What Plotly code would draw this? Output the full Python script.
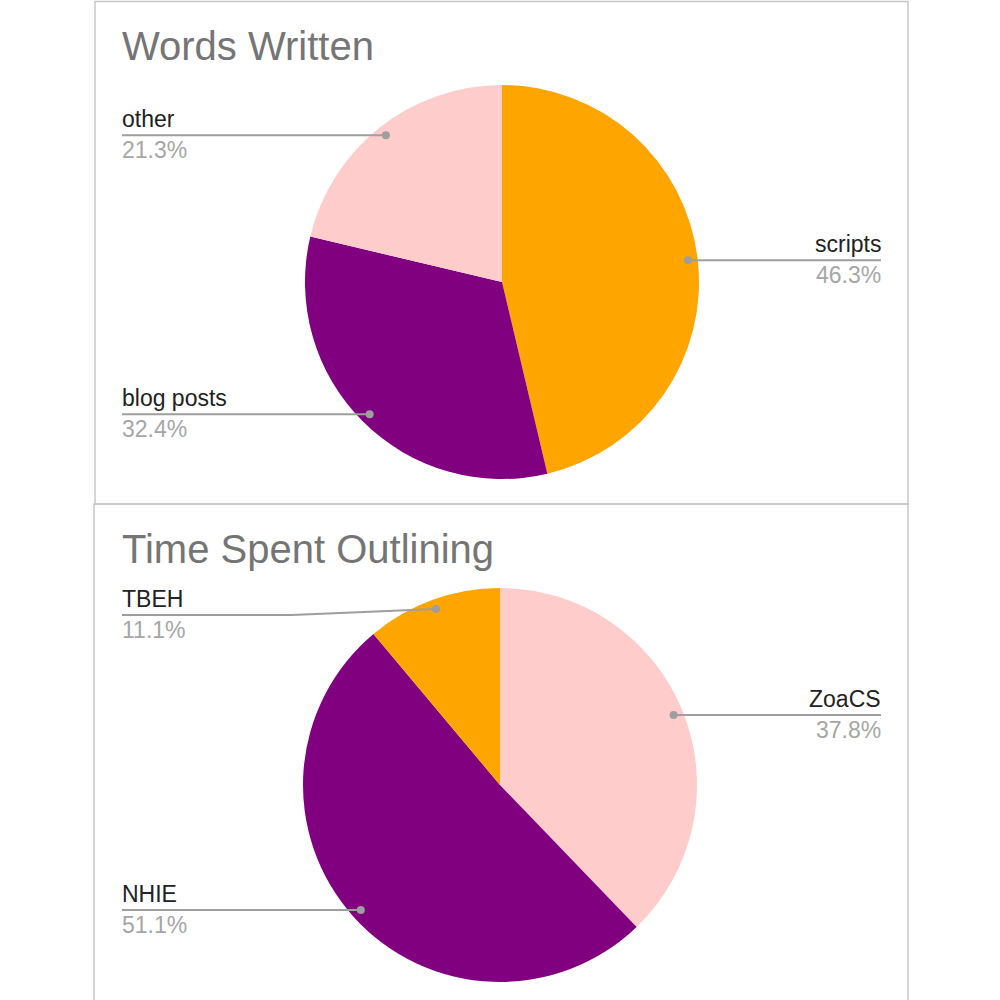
import math
import plotly.graph_objects as go

# chart data
words_labels = ["scripts", "blog posts", "other"]
words_values = [46.3, 32.4, 21.3]
words_colors = ["#ffa500", "#800080", "#ffcccc"]

outline_labels = ["ZoaCS", "NHIE", "TBEH"]
outline_values = [37.8, 51.1, 11.1]
outline_colors = ["#ffcccc", "#800080", "#ffa500"]

titles = ["Words Written", "Time Spent Outlining"]

# page pixel -> paper coords (body margin removed below)
W = H = 1000
OFF = 0


def px(x):
    return (x - OFF) / W


def py(y):
    return 1 - (y - OFF) / H


FONT = "Liberation Sans, Arial, sans-serif"
LINE_COL = "#9e9e9e"

panels = [
    dict(labels=words_labels, values=words_values, colors=words_colors,
         title=titles[0], cx=502, cy=282, r=197, box=(95, 1.5, 908, 504),
         title_y=60, min_y=120),
    dict(labels=outline_labels, values=outline_values, colors=outline_colors,
         title=titles[1], cx=500, cy=785, r=197, box=(94, 504, 908, 1003),
         title_y=563, min_y=615),
]

LEFT_X, RIGHT_X = 122, 881
PAD = 2  # annotation box padding

fig = go.Figure()
shapes = []
annotations = []

for p in panels:
    cx, cy, r = p["cx"], p["cy"], p["r"]
    fig.add_trace(go.Pie(
        labels=p["labels"], values=p["values"],
        marker=dict(colors=p["colors"], line=dict(width=0)),
        sort=False, direction="clockwise", rotation=0,
        textinfo="none", hoverinfo="label+percent", showlegend=False,
        domain=dict(x=[px(cx - r), px(cx + r)], y=[py(cy + r), py(cy - r)]),
    ))

    x0, y0, x1, y1 = p["box"]
    shapes.append(dict(type="rect", xref="paper", yref="paper",
                       x0=px(x0), x1=px(x1), y0=py(y1), y1=py(y0),
                       line=dict(color="#c8c8c8", width=1.5)))

    annotations.append(dict(text=p["title"], x=px(LEFT_X - PAD), y=py(p["title_y"] - 14),
                            xref="paper", yref="paper", xanchor="left", yanchor="middle",
                            showarrow=False, font=dict(family=FONT, size=40, color="#757575")))

    total = sum(p["values"])
    cum = 0
    for lab, val in zip(p["labels"], p["values"]):
        theta = 2 * math.pi * (cum + val / 2) / total
        cum += val
        dx = cx + 0.95 * r * math.sin(theta)
        dy = cy - 0.95 * r * math.cos(theta)
        right = math.sin(theta) > 0
        end_x = RIGHT_X if right else LEFT_X
        ly = max(dy, p["min_y"])
        if abs(ly - dy) > 0.5:
            bx = end_x + 0.54 * (dx - end_x)
            path = "M {} {} L {} {} L {} {}".format(px(end_x), py(ly), px(bx), py(ly), px(dx), py(dy))
        else:
            path = "M {} {} L {} {}".format(px(end_x), py(ly), px(dx), py(dy))
        shapes.append(dict(type="path", path=path, xref="paper", yref="paper",
                           line=dict(color=LINE_COL, width=2)))
        dr = 4
        shapes.append(dict(type="circle", xref="paper", yref="paper",
                           x0=px(dx - dr), x1=px(dx + dr), y0=py(dy + dr), y1=py(dy - dr),
                           fillcolor=LINE_COL, line=dict(width=0)))
        anchor = "right" if right else "left"
        tx = end_x + PAD if right else end_x - PAD
        annotations.append(dict(text=lab, x=px(tx), y=py(ly - 16),
                                xref="paper", yref="paper", xanchor=anchor, yanchor="middle",
                                showarrow=False, font=dict(family=FONT, size=23, color="#222222")))
        annotations.append(dict(text="{:.1f}%".format(100 * val / total), x=px(tx), y=py(ly + 15),
                                xref="paper", yref="paper", xanchor=anchor, yanchor="middle",
                                showarrow=False, font=dict(family=FONT, size=23, color="#a6a6a6")))

fig.update_layout(
    width=W, height=H,
    margin=dict(l=0, r=0, t=0, b=0),
    paper_bgcolor="white", plot_bgcolor="white",
    shapes=shapes, annotations=annotations,
    font=dict(family=FONT),
)

fig.write_html("out.html", config={"displayModeBar": False},
               post_script="document.body.style.margin='0';")
